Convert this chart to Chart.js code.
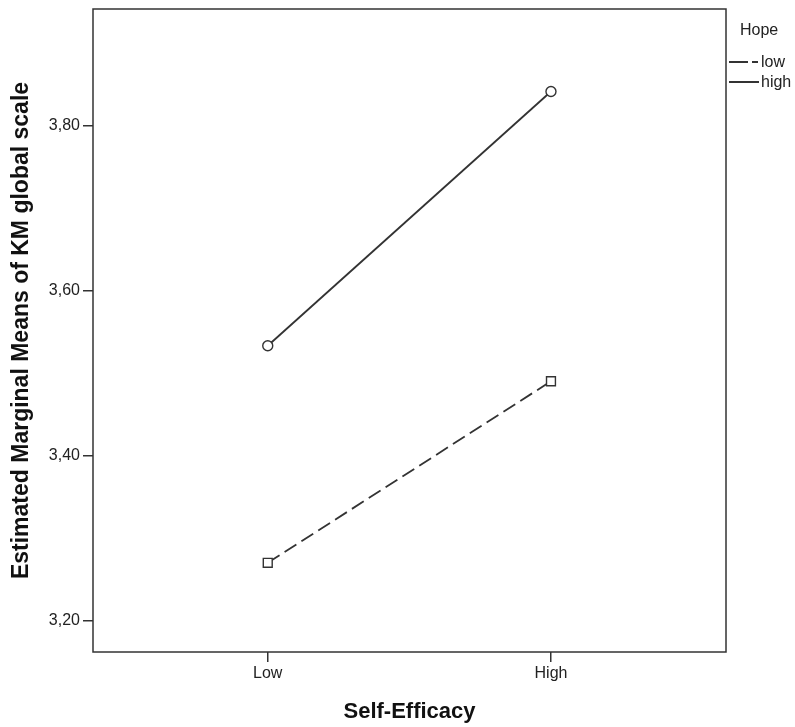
<!DOCTYPE html>
<html>
<head>
<meta charset="utf-8">
<script src="https://cdn.jsdelivr.net/npm/chart.js@4"></script>
<style>
  html, body { margin: 0; padding: 0; background: #fff; }
  #wrap { width: 795px; height: 727px; }
</style>
</head>
<body>
<div id="wrap"><canvas id="plot" width="795" height="727"></canvas></div>
<script>
// Estimated marginal means
const selfEfficacy = ['Low', 'High'];
const hopeLow = [3.27, 3.49];
const hopeHigh = [3.533, 3.841];
const yTicks = [3.2, 3.4, 3.6, 3.8];

const ink = '#333333';
const font = "'Liberation Sans', Arial, sans-serif";

function toPoints(values) {
  return values.map((v, i) => ({ x: i, y: v }));
}

// Box around the plot area plus the "Hope" legend at the right
const framePlugin = {
  id: 'frame',
  afterDraw(chart) {
    const { ctx, chartArea: a } = chart;
    ctx.save();
    ctx.strokeStyle = ink;
    ctx.lineWidth = 1.5;
    ctx.strokeRect(a.left, a.top, a.right - a.left, a.bottom - a.top);

    ctx.fillStyle = '#222';
    ctx.textBaseline = 'middle';
    ctx.font = '16px ' + font;
    ctx.fillText('Hope', 740, 31);

    chart.data.datasets.forEach((ds, i) => {
      const y = 62 + i * 20;
      ctx.beginPath();
      ctx.setLineDash(ds.legendDash || []);
      ctx.lineWidth = 2;
      ctx.strokeStyle = ink;
      ctx.moveTo(729, y);
      ctx.lineTo(759, y);
      ctx.stroke();
      ctx.setLineDash([]);
      ctx.fillText(ds.label, 761, y + 1);
    });
    ctx.restore();
  }
};

new Chart(document.getElementById('plot'), {
  type: 'line',
  data: {
    datasets: [
      {
        label: 'low',
        data: toPoints(hopeLow),
        borderColor: ink,
        borderWidth: 1.8,
        borderDash: [14, 6],
        legendDash: [19, 4, 6, 4],
        pointStyle: 'rect',
        pointRadius: 6.3,
        pointBackgroundColor: '#fff',
        pointBorderColor: ink,
        pointBorderWidth: 1.4
      },
      {
        label: 'high',
        data: toPoints(hopeHigh),
        borderColor: ink,
        borderWidth: 1.8,
        pointStyle: 'circle',
        pointRadius: 5,
        pointBackgroundColor: '#fff',
        pointBorderColor: ink,
        pointBorderWidth: 1.4
      }
    ]
  },
  options: {
    responsive: false,
    animation: false,
    layout: { padding: { top: 9, right: 69, left: 0, bottom: 0 } },
    plugins: {
      legend: { display: false },
      tooltip: { enabled: false }
    },
    scales: {
      x: {
        type: 'linear',
        min: -0.617,
        max: 1.618,
        afterBuildTicks(scale) {
          scale.ticks = selfEfficacy.map((_, i) => ({ value: i }));
        },
        afterFit(scale) {
          scale.height = 75;
          scale.paddingLeft = 0;
          scale.paddingRight = 0;
        },
        grid: { drawOnChartArea: false, tickLength: 10, color: ink, lineWidth: 1.5 },
        border: { display: false },
        ticks: {
          color: '#222',
          padding: 2,
          font: { family: font, size: 16 },
          callback: (v) => selfEfficacy[v]
        },
        title: {
          display: true,
          text: 'Self-Efficacy',
          color: '#111',
          padding: { top: 0, bottom: 2 },
          font: { family: font, size: 22, weight: 'bold' }
        }
      },
      y: {
        min: 3.162,
        max: 3.941,
        afterBuildTicks(scale) {
          scale.ticks = yTicks.map(v => ({ value: v }));
        },
        afterFit(scale) {
          scale.width = 93;
          scale.paddingTop = 0;
          scale.paddingBottom = 0;
        },
        grid: { drawOnChartArea: false, tickLength: 10, color: ink, lineWidth: 1.5 },
        border: { display: false },
        ticks: {
          color: '#222',
          padding: 3,
          font: { family: font, size: 16 },
          callback: (v) => v.toFixed(2).replace('.', ',')
        },
        title: {
          display: true,
          text: 'Estimated Marginal Means of KM global scale',
          color: '#111',
          padding: { top: 8, bottom: 0 },
          font: { family: font, size: 23, weight: 'bold' }
        }
      }
    }
  },
  plugins: [framePlugin]
});
</script>
</body>
</html>
